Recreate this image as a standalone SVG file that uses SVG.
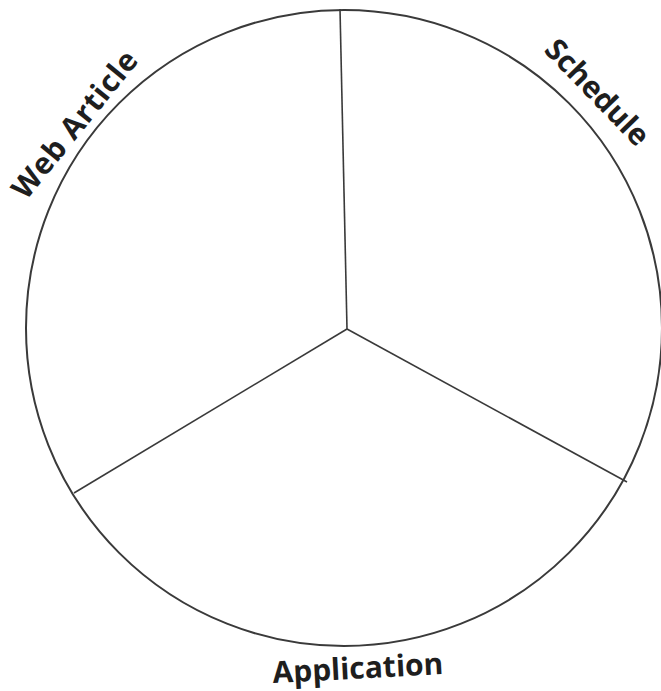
<svg xmlns="http://www.w3.org/2000/svg" width="661" height="691" viewBox="0 0 661 691">
<style>
.lbl{font-family:"Open Sans","Noto Sans",sans-serif;font-weight:700;font-size:30px;fill:#1e1e1e}
.ln{stroke:#3a3a3a;fill:none}
</style>
<rect width="661" height="691" fill="#fff"/>
<g id="circle"><circle class="ln" cx="344" cy="328" r="318" stroke-width="2"/></g>
<g id="connectors">
<line class="ln" x1="347" y1="329" x2="340" y2="9" stroke-width="1.6"/>
<line class="ln" x1="347" y1="329" x2="74" y2="493" stroke-width="1.6"/>
<line class="ln" x1="347" y1="329" x2="627" y2="482" stroke-width="1.6"/>
</g>
<g id="web-article"><text class="lbl" letter-spacing="0.8" transform="translate(26,201) rotate(-51)">Web Article</text></g>
<g id="schedule"><text class="lbl" transform="translate(543,51) rotate(46)">Schedule</text></g>
<g id="application"><text class="lbl" transform="translate(273,683) rotate(-3)">Application</text></g>
</svg>
